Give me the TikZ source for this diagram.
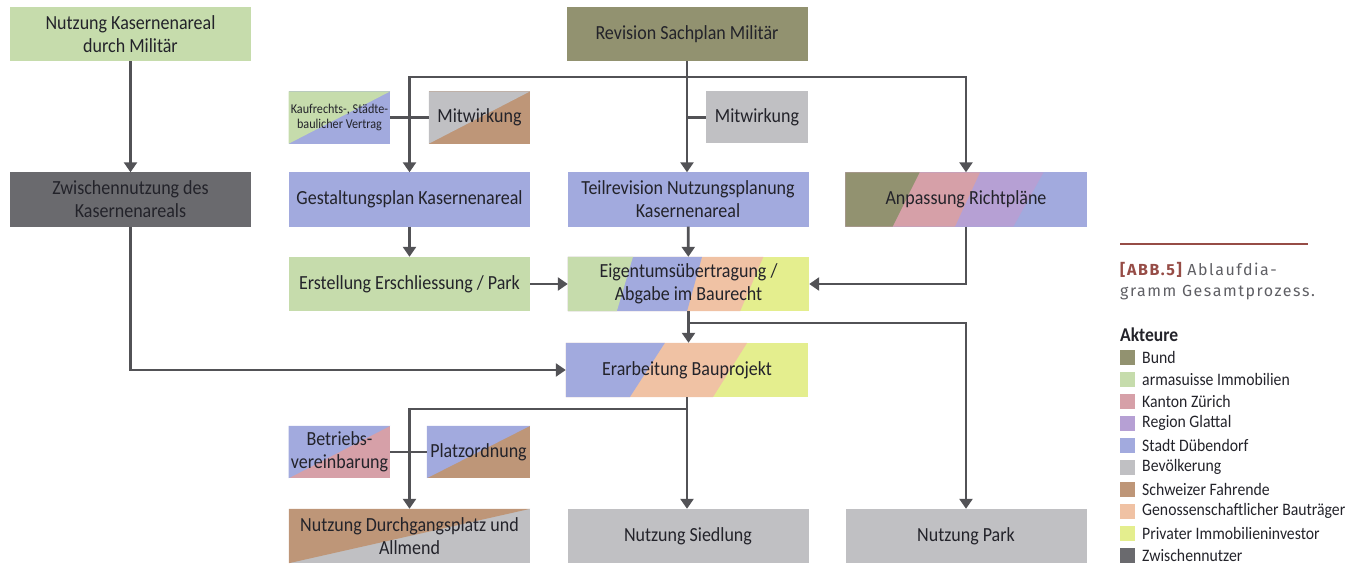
\documentclass[tikz,border=0pt]{standalone}
\usepackage{fontspec}
\setmainfont{Carlito}[FakeStretch=0.9]
\newfontfamily\capfont{Fira Sans}[LetterSpace=9.5]
\usetikzlibrary{arrows.meta,calc,backgrounds}
\definecolor{cbund}{RGB}{146,146,112}
\definecolor{carma}{RGB}{198,220,172}
\definecolor{ckanton}{RGB}{214,160,168}
\definecolor{cregion}{RGB}{182,160,212}
\definecolor{cstadt}{RGB}{162,170,222}
\definecolor{cbev}{RGB}{192,192,195}
\definecolor{cfahr}{RGB}{190,150,120}
\definecolor{cgen}{RGB}{240,194,164}
\definecolor{cpriv}{RGB}{228,238,142}
\definecolor{czw}{RGB}{106,106,110}
\definecolor{cline}{RGB}{82,82,86}
\definecolor{ctext}{RGB}{35,35,42}
\definecolor{cabb}{RGB}{150,76,70}
\definecolor{ccap}{RGB}{95,95,100}
% #1 node, #2 colour: whole box
\newcommand\basefill[2]{\fill[#2] (#1.north west) rectangle (#1.south east);}
% #1 node, #2 colour, #3 top fraction, #4 bottom fraction: stripe from left edge
\newcommand\lstripe[4]{\fill[#2] (#1.north west) -- ($(#1.north west)!#3!(#1.north east)$) -- ($(#1.south west)!#4!(#1.south east)$) -- (#1.south west) -- cycle;}
% #1 node, #2 upper-left colour, #3 lower-right colour
\newcommand\diagfill[3]{\basefill{#1}{#3}\fill[#2] (#1.north west) -- (#1.north east) -- (#1.south west) -- cycle;}
\tikzset{
  box/.style={inner sep=2pt, align=center, text=ctext, font=\fontsize{20}{23}\selectfont},
  bigbox/.style={box, minimum width=241pt, minimum height=54pt},
  smallbox/.style={box, minimum width=101pt, minimum height=52pt},
  ln/.style={draw=cline, line width=2.8pt},
  arr/.style={ln, -{Triangle[length=10pt,width=13pt]}},
  legsq/.style={minimum width=15pt, minimum height=15pt, inner sep=0pt},
  legtx/.style={anchor=west, inner sep=0pt, text=ctext, font=\fontsize{17.5}{19}\selectfont},
}
\begin{document}
\begin{tikzpicture}[x=1pt,y=-1pt]
\useasboundingbox (0,0) rectangle (1362,564);
% boxes
\node[bigbox, fill=carma] (mil) at (130.5,34) {Nutzung Kasernenareal\\durch Militär};
\node[bigbox, fill=cbund] (rev) at (687,34) {Revision Sachplan Militär};
\node[smallbox, font=\fontsize{13.5}{15}\selectfont] (kauf) at (339.5,117.5) {Kaufrechts-, Städte-\\baulicher Vertrag};
\node[smallbox] (mitl) at (479.5,117.5) {Mitwirkung};
\node[smallbox, fill=cbev, minimum width=102pt] (mitm) at (757,117.5) {Mitwirkung};
\node[bigbox, fill=czw] (zw) at (130.5,199.5) {Zwischennutzung des\\Kasernenareals};
\node[bigbox, fill=cstadt] (ges) at (409.5,199.5) {Gestaltungsplan Kasernenareal};
\node[bigbox, fill=cstadt] (teil) at (688,199.5) {Teilrevision Nutzungsplanung\\Kasernenareal};
\node[bigbox] (anp) at (966,199.5) {Anpassung Richtpläne};
\node[bigbox, fill=carma] (ers) at (409.5,284) {Erstellung Erschliessung / Park};
\node[bigbox] (eig) at (688.5,284) {Eigentumsübertragung /\\Abgabe im Baurecht};
\node[bigbox, minimum width=242pt] (era) at (687,370) {Erarbeitung Bauprojekt};
\node[smallbox] (betr) at (339.5,452) {Betriebs-\\vereinbarung};
\node[smallbox, minimum width=103pt] (platz) at (478.5,452) {Platzordnung};
\node[bigbox] (durch) at (409.5,536) {Nutzung Durchgangsplatz und\\Allmend};
\node[bigbox, fill=cbev] (sied) at (688,536) {Nutzung Siedlung};
\node[bigbox, fill=cbev] (park) at (966,536) {Nutzung Park};
% multi-coloured backgrounds
\begin{scope}[on background layer]
  \diagfill{kauf}{carma}{cstadt}
  \diagfill{mitl}{cbev}{cfahr}
  \diagfill{betr}{cstadt}{ckanton}
  \diagfill{platz}{cstadt}{cfahr}
  \diagfill{durch}{cfahr}{cbev}
  \basefill{anp}{cstadt}
  \lstripe{anp}{cregion}{0.821}{0.696}
  \lstripe{anp}{ckanton}{0.558}{0.454}
  \lstripe{anp}{cbund}{0.308}{0.196}
  \basefill{eig}{cpriv}
  \lstripe{eig}{cgen}{0.81}{0.714}
  \lstripe{eig}{cstadt}{0.556}{0.494}
  \lstripe{eig}{carma}{0.27}{0.203}
  \basefill{era}{cpriv}
  \lstripe{era}{cgen}{0.748}{0.607}
  \lstripe{era}{cstadt}{0.409}{0.264}
\end{scope}
% junctions
\coordinate (j1) at (687,77);
\coordinate (j2) at (688,323);
\coordinate (j3) at (688,409);
% connectors
\draw[arr] (mil) -- (zw);
\draw[ln] (kauf.east) -- (mitl.west);
\draw[ln] (rev.south |- mitm.west) -- (mitm.west);
\draw[arr] (rev.south) -- (rev.south |- teil.north);
\draw[arr] (j1) -| (ges.north);
\draw[arr] (j1) -| (anp.north);
\draw[arr] (ges) -- (ers);
\draw[arr] (teil) -- (eig);
\draw[arr] (ers.east) -- (eig.west);
\draw[arr] (anp.south) |- (eig.east);
\draw[arr] (eig.south) -- (eig.south |- era.north);
\draw[arr] (j2) -| (park.north);
\draw[arr] (zw.south) |- (era.west);
\draw[ln] (betr.east) -- (platz.west);
\draw[arr] (era.south) -- (era.south |- sied.north);
\draw[arr] (j3) -| (durch.north);
% legend
\coordinate (lg0) at (1120,244);
\coordinate (lg1) at (1308,244);
\draw[draw=cabb, line width=1.8pt] (lg0) -- (lg1);
\node[anchor=west, inner sep=0pt, font=\capfont\fontsize{16}{18}\selectfont, text=ccap] (cap1) at (1120,270) {\textcolor{cabb}{\bfseries[ABB.5]} Ablaufdia-};
\node[anchor=west, inner sep=0pt, font=\capfont\fontsize{16}{18}\selectfont, text=ccap] (cap2) at (1120,293) {gramm Gesamtprozess.};
\node[anchor=west, inner sep=0pt, font=\bfseries\fontsize{19.5}{21}\selectfont, text=ctext] (akt) at (1120,335) {Akteure};
\foreach \c/\t [count=\i from 0] in {cbund/Bund, carma/armasuisse Immobilien, ckanton/Kanton Zürich, cregion/Region Glattal, cstadt/Stadt Dübendorf, cbev/Bevölkerung, cfahr/Schweizer Fahrende, cgen/Genossenschaftlicher Bauträger, cpriv/Privater Immobilieninvestor, czw/Zwischennutzer}{
  \node[legsq, fill=\c] (sq\i) at (1127.5,357+22*\i) {};
  \node[legtx] (lt\i) at (1142,357+22*\i) {\t};
}
\end{tikzpicture}
\end{document}
